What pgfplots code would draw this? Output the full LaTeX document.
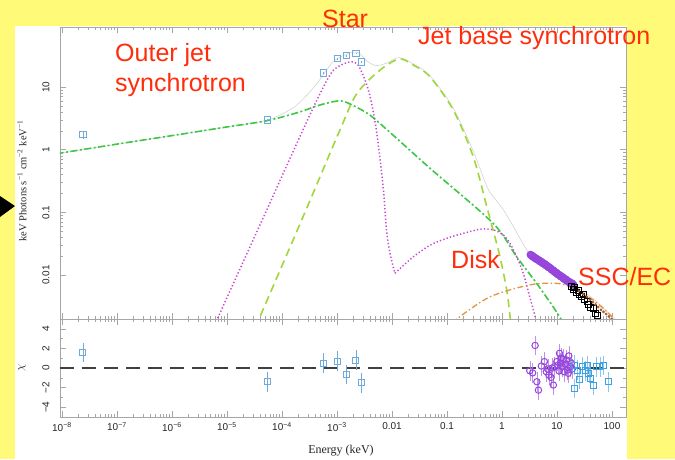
\documentclass[border=0pt]{standalone}
\usepackage{fontspec}
\setmainfont{Liberation Sans}
\newfontfamily\serif{Liberation Serif}
\usepackage{pgfplots}
\pgfplotsset{compat=1.18}
\definecolor{bgyellow}{RGB}{255,250,120}
\definecolor{outerjet}{RGB}{60,200,70}
\definecolor{jetbase}{RGB}{160,215,60}
\definecolor{starcol}{RGB}{200,70,210}
\definecolor{ssccol}{RGB}{225,150,70}
\definecolor{totalcol}{RGB}{212,212,212}
\definecolor{bluesq}{RGB}{110,170,220}
\definecolor{purplec}{RGB}{150,70,220}
\definecolor{cyansq}{RGB}{60,160,225}
\definecolor{browncol}{RGB}{165,95,45}
\definecolor{annotred}{RGB}{255,45,10}
\tikzset{redlabel/.style={font=\fontsize{25}{30}\selectfont, text=annotred, inner sep=0pt, anchor=base west}}
\begin{document}
\begin{tikzpicture}[x=1pt,y=1pt]
\useasboundingbox (0,0) rectangle (675,459);
\fill[bgyellow] (0,0) rectangle (675,459);
\fill[white] (15,0) rectangle (627,433);
\fill[black] (0,263) -- (15,253) -- (0,242) -- cycle;

\begin{axis}[at={(60pt,140pt)}, anchor=south west, scale only axis, width=566pt, height=292pt,
  xmode=log, ymode=log, xmin=9.2e-9, xmax=179.7, ymin=0.002, ymax=90.6,
  axis line style={gray!70, line width=0.6pt},
  major tick style={gray!70, line width=0.5pt}, minor tick style={gray!70, line width=0.5pt},
  major tick length=6pt, minor tick length=3pt, tick align=inside,
  xtick={1e-8,1e-7,1e-6,1e-5,1e-4,1e-3,1e-2,1e-1,1,10,100}, xticklabels={},
  ytick={0.01,0.1,1,10}, yticklabels={0.01,0.1,1,10},
  tick label style={font=\fontsize{10}{12}\selectfont, black!85},
  yticklabel style={xshift=-7pt, rotate=90, anchor=south}]
% total model
\addplot[totalcol, line width=0.6pt, smooth] coordinates {(8e-9,0.865) (1e-6,1.68) (1e-5,2.31) (5.3e-5,2.95) (1.5e-4,4.5) (2.5e-4,6.6) (4.3e-4,11.3) (8.6e-4,25.5) (1.67e-3,34.6) (2.44e-3,35.5) (3.5e-3,26) (5.1e-3,22) (7.96e-3,24) (0.0135,29.5) (0.0244,23.4) (0.049,15.1) (0.13,4.6) (0.30,0.95) (0.53,0.26) (0.69,0.18) (1.06,0.11) (1.6,0.06) (2.44,0.031) (3.2,0.022) (5.6,0.0135) (9.8,0.0100) (18,0.0073) (45.7,0.0042) (100,0.0022) (120,0.0018)};
% outer jet synchrotron
\addplot[outerjet, line width=1.6pt, dash pattern=on 7pt off 2.5pt on 2pt off 2.5pt, smooth] coordinates {(8e-9,0.865) (1e-7,1.23) (1e-6,1.68) (1e-5,2.31) (5.3e-5,2.9) (2.1e-4,4.0) (4.3e-4,5.0) (8.6e-4,5.85) (1.2e-3,6.0) (1.7e-3,5.4) (3.5e-3,3.85) (6.6e-3,2.45) (0.05,0.50) (0.69,0.067) (1.85,0.0196) (4.27,0.0074) (9.8,0.0026) (13,0.0017)};
% jet base synchrotron
\addplot[jetbase, line width=1.6pt, dash pattern=on 8pt off 5pt, smooth] coordinates {(3.5e-5,0.0017) (4e-5,0.0022) (2.44e-4,0.087) (1.13e-3,2.06) (2.28e-3,7.8) (6e-3,18.5) (0.0135,28) (0.0244,22.4) (0.049,14.6) (0.13,4.3) (0.30,0.775) (0.53,0.123) (0.69,0.052) (0.92,0.0196) (1.22,0.0058) (1.4,0.0022) (1.5,0.0013)};
% star
\addplot[starcol, line width=1.5pt, dash pattern=on 1.3pt off 2.2pt, smooth] coordinates {(5.3e-6,0.0015) (6.95e-6,0.00217) (1e-5,0.0044) (5.27e-5,0.109) (1e-4,0.38) (2.6e-4,2.4) (4.9e-4,7.8) (8.6e-4,18.5) (1.67e-3,25) (2.44e-3,22.2) (3.5e-3,10.6) (4.27e-3,5.4) (5.3e-3,1.83) (6.9e-3,0.257) (7.96e-3,0.052) (9.2e-3,0.0223) (1.13e-2,0.0107)};
% disk
\addplot[starcol, line width=1.5pt, dash pattern=on 1.3pt off 2.2pt, smooth] coordinates {(1.13e-2,0.0107) (0.016,0.0142) (2.44e-2,0.0196) (0.049,0.030) (0.098,0.0386) (0.198,0.0464) (0.4,0.054) (0.69,0.053) (1.06,0.0436) (1.4,0.032) (1.85,0.0196) (2.44,0.0107) (3.2,0.0045) (4.0,0.0022) (4.6,0.0012)};
% SSC/EC
\addplot[ssccol, line width=1.3pt, dash pattern=on 6pt off 2.5pt on 1.5pt off 2.5pt, smooth] coordinates {(0.13,0.0017) (0.15,0.002) (0.6,0.0045) (3.2,0.007) (9.8,0.0074) (17.2,0.0065) (45.7,0.004) (99,0.0022) (115,0.0018)};
% data
\addplot[only marks, mark=square, mark size=3.2pt, bluesq, line width=0.8pt,
  error bars/.cd, y dir=both, y explicit, error mark=none, error bar style={bluesq, line width=0.6pt}] coordinates {(2.4e-8,1.75) +- (0,0.25) (5.4e-5,3.0) +- (0,0.1) (5.6e-4,16.7) +- (0,0.5) (1.03e-3,28.3) +- (0,0.5) (1.5e-3,31.6) +- (0,0.5) (2.2e-3,34.4) +- (0,0.5) (2.77e-3,25.3) +- (0,0.5)};
\addplot[only marks, mark=o, mark size=3.4pt, purplec, line width=1.1pt] coordinates {(3.3,0.0212) (3.4,0.0207) (3.5,0.0206) (3.6,0.0199) (3.7,0.0197) (3.8,0.0194) (3.9,0.0191) (4.0,0.0186) (4.1,0.0187) (4.25,0.0181) (4.4,0.0177) (4.55,0.0175) (4.7,0.0173) (4.85,0.0167) (5.0,0.0165) (5.15,0.0164) (5.3,0.0161) (5.45,0.0156) (5.6,0.0154) (5.8,0.0153) (6.0,0.0150) (6.2,0.0145) (6.4,0.0142) (6.6,0.0141) (6.8,0.0138) (7.0,0.0134) (7.2,0.0132) (7.45,0.0131) (7.7,0.0128) (7.95,0.0123) (8.2,0.0121) (8.45,0.0120) (8.7,0.0118) (9.0,0.0113) (9.3,0.0111) (9.6,0.0110) (9.9,0.0108) (10.2,0.0104) (10.5,0.0102) (10.85,0.0101) (11.2,0.0100) (11.6,0.0096) (12.0,0.0094) (12.4,0.0094) (12.8,0.0092) (13.2,0.0088) (13.6,0.0087) (14.0,0.0086) (14.5,0.0086) (15.0,0.0082) (15.5,0.0080) (16.0,0.0080) (16.5,0.0079) (17.0,0.0076) (17.6,0.0075) (18.2,0.0075) (18.8,0.0074) (19.4,0.0071) (20.0,0.0070)};
\addplot[only marks, mark=square, mark size=3pt, black, line width=0.8pt] coordinates {(18,0.0066) (19.5,0.0060) (21,0.0063) (22.5,0.0054) (24,0.0058) (26,0.0050) (28,0.0046) (30,0.0049) (32,0.0041) (35,0.0038) (38,0.0034) (41,0.0031) (45,0.0029) (50,0.0025) (55,0.0023)};
\addplot[only marks, mark=*, mark size=1.2pt, browncol] coordinates {(25,0.0056) (30,0.0050) (35,0.0045) (40,0.0041) (45,0.0037) (50,0.0034) (56,0.0031) (63,0.0028) (70,0.0026) (78,0.0024) (88,0.0022) (98,0.0020)};
\end{axis}

\begin{axis}[at={(60pt,42pt)}, anchor=south west, scale only axis, width=566pt, height=98pt,
  xmode=log, xmin=9.2e-9, xmax=179.7, ymin=-5, ymax=5,
  axis line style={gray!70, line width=0.6pt},
  major tick style={gray!70, line width=0.5pt}, minor tick style={gray!70, line width=0.5pt},
  major tick length=6pt, minor tick length=3pt, tick align=inside,
  xtick={1e-8,1e-7,1e-6,1e-5,1e-4,1e-3,1e-2,1e-1,1,10,100},
  xticklabels={10\textsuperscript{−8},10\textsuperscript{−7},10\textsuperscript{−6},10\textsuperscript{−5},10\textsuperscript{−4},10\textsuperscript{−3},0.01,0.1,1,10,100},
  ytick={-4,-2,0,2,4}, yticklabels={−4,−2,0,2,4}, minor y tick num=1,
  tick label style={font=\fontsize{10}{12}\selectfont, black!85},
  xticklabel style={yshift=-2pt},
  yticklabel style={xshift=-7pt, rotate=90, anchor=south}]
\addplot[black!75, line width=1.8pt, dash pattern=on 14pt off 8pt] coordinates {(9.2e-9,0) (179.7,0)};
\addplot[only marks, mark=square, mark size=3pt, bluesq, line width=0.8pt,
  error bars/.cd, y dir=both, y explicit, error mark=none, error bar style={bluesq, line width=0.6pt}] coordinates {
  (2.4e-8,1.57) +- (0,0.95) (5.4e-5,-1.4) +- (0,1) (5.6e-4,0.48) +- (0,1) (1.03e-3,0.72) +- (0,1) (1.5e-3,-0.65) +- (0,1) (2.2e-3,0.82) +- (0,1) (2.77e-3,-1.5) +- (0,1)};
\addplot[only marks, mark=o, mark size=3.2pt, purplec, line width=1pt,
  error bars/.cd, y dir=both, y explicit, error mark=none, error bar style={purplec!60, line width=0.5pt}] coordinates {
  (3.2,-0.28) +- (0,1) (3.6,-0.5) +- (0,1) (4.0,2.3) +- (0,1) (4.3,-1.4) +- (0,1) (4.6,-2.26) +- (0,1) (5.2,0.2) +- (0,1) (5.9,0.65) +- (0,1) (6.4,-0.38) +- (0,1) (6.8,-0.1) +- (0,1) (7.1,-0.72) +- (0,1) (7.8,-0.96) +- (0,1) (8.2,0.0) +- (0,1) (8.6,-1.74) +- (0,1) (9.0,0.13) +- (0,1) (9.9,0.65) +- (0,1) (10.4,0.3) +- (0,1) (10.9,-0.3) +- (0,1) (11.1,1.5) +- (0,1) (11.6,0.5) +- (0,1) (12.0,1.0) +- (0,1) (12.4,0.13) +- (0,1) (13.0,0.9) +- (0,1) (13.5,-0.38) +- (0,1) (14.2,0.4) +- (0,1) (14.9,0.82) +- (0,1) (15.5,-0.2) +- (0,1) (16.0,-0.54) +- (0,1) (16.4,1.23) +- (0,1) (17.4,0.13) +- (0,1) (18.2,0.5) +- (0,1) (19,-0.1) +- (0,1)};
\addplot[only marks, mark=square, mark size=3pt, cyansq, line width=0.8pt,
  error bars/.cd, y dir=both, y explicit, error mark=none, error bar style={cyansq!60, line width=0.5pt}] coordinates {
  (20.5,-2.08) +- (0,1) (21,0.3) +- (0,1) (23.5,-0.2) +- (0,1) (25.5,-1.16) +- (0,1) (29,0.13) +- (0,1) (33,-0.28) +- (0,1) (35.5,0.24) +- (0,1) (38,-0.54) +- (0,1) (41,-1.06) +- (0,1) (46,-1.74) +- (0,1) (52,0.13) +- (0,1) (60,0.13) +- (0,1) (70,0.24) +- (0,1) (87,-1.4) +- (0,1)};
\end{axis}

\node[rotate=90, font=\serif\fontsize{10.5}{12}\selectfont, black!85] at (22,278) {keV Photons s\textsuperscript{−1} cm\textsuperscript{−2} keV\textsuperscript{−1}};
\node[rotate=90, font=\fontsize{12}{14}\selectfont, black!85] at (22,91) {$\chi$};
\node[font=\serif\fontsize{12}{14}\selectfont, black!85] at (341,8) {Energy (keV)};

\node[redlabel] at (322,431) {Star};
\node[redlabel] at (115,397) {Outer jet};
\node[redlabel] at (115,367) {synchrotron};
\node[redlabel] at (418,414) {Jet base synchrotron};
\node[redlabel] at (451,191) {Disk};
\node[redlabel] at (578,174) {SSC/EC};
\end{tikzpicture}
\end{document}
